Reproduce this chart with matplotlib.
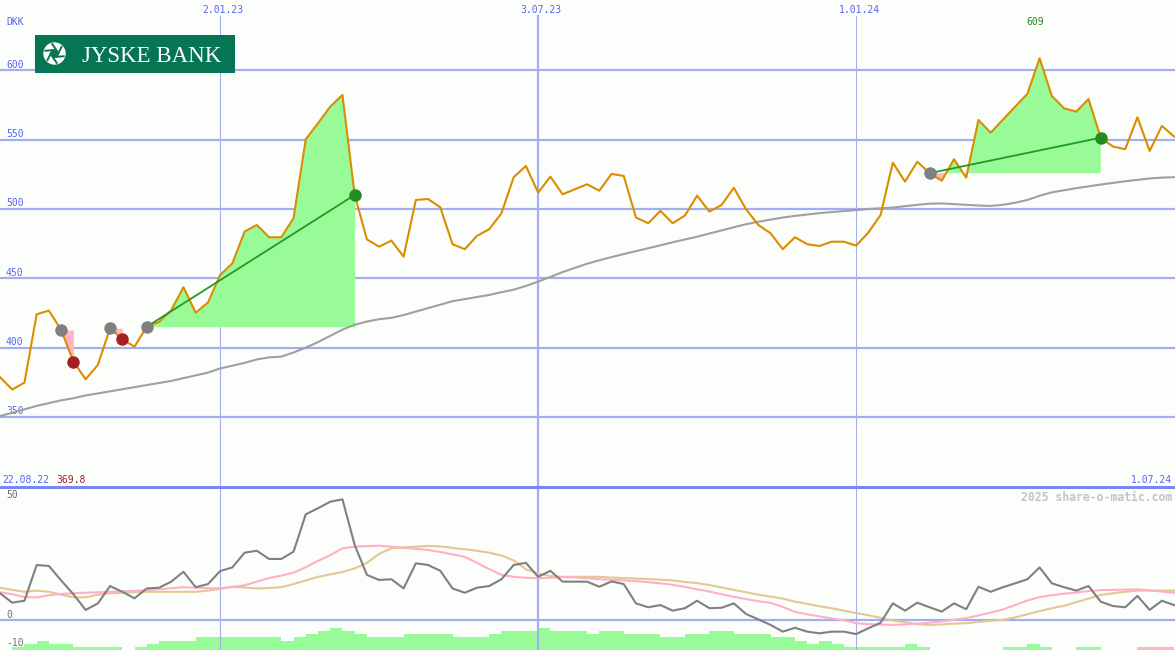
import numpy as np
import pandas as pd
import matplotlib
matplotlib.use("Agg")
import matplotlib.pyplot as plt
from matplotlib.lines import Line2D
from matplotlib.patches import Circle, RegularPolygon
from matplotlib.transforms import offset_copy

# weekly closing price, DKK
price = [378.7, 369.8, 374.8, 424.1, 426.7, 412.7, 390.0, 377.2, 387.5, 414.0,
         406.1, 400.7, 415.1, 418.5, 427.0, 443.6, 425.2, 432.5, 452.4, 460.8,
         483.7, 488.5, 479.6, 479.6, 493.3, 550.3, 561.8, 573.8, 582.2, 510.1,
         478.0, 472.8, 477.2, 465.6, 506.5, 507.2, 501.2, 474.6, 471.0, 480.6,
         485.4, 496.9, 522.9, 531.0, 511.8, 523.3, 510.6, 514.2, 517.8, 513.2,
         525.3, 523.8, 493.8, 489.7, 498.6, 489.7, 495.3, 509.6, 498.1, 502.9,
         515.3, 499.8, 488.5, 482.5, 471.0, 479.6, 474.6, 473.3, 476.4, 476.4,
         473.6, 483.0, 495.7, 533.4, 519.7, 534.1, 525.8, 520.4, 535.9, 522.6,
         564.2, 555.0, 564.4, 573.8, 583.0, 608.7, 581.5, 572.6, 570.2, 579.3,
         551.4, 545.0, 543.1, 566.1, 541.8, 559.9, 552.2]

# long moving average (grey)
ma = [350.7, 353.0, 355.5, 358.0, 360.0, 362.0, 363.5, 365.5, 367.0, 368.5,
      370.0, 371.5, 373.0, 374.5, 376.0, 378.0, 380.0, 382.0, 385.0, 387.0,
      389.0, 391.5, 393.0, 393.5, 396.5, 400.0, 404.0, 408.5, 413.0, 416.5,
      418.8, 420.5, 421.5, 423.5, 426.0, 428.5, 431.0, 433.5, 435.0, 436.5,
      438.0, 440.0, 441.8, 444.5, 447.6, 451.0, 454.5, 457.5, 460.5, 463.0,
      465.3, 467.5, 469.6, 471.7, 473.8, 476.0, 478.0, 480.0, 482.3, 484.5,
      486.8, 489.0, 490.8, 492.3, 493.8, 495.0, 496.0, 497.0, 497.8, 498.5,
      499.2, 500.0, 500.5, 501.0, 502.0, 503.0, 503.8, 504.0, 503.5, 503.0,
      502.5, 502.2, 503.0, 504.5, 506.5, 509.5, 512.0, 513.5, 515.0, 516.3,
      517.6, 518.8, 520.0, 521.0, 522.0, 522.6, 522.9]

# lower panel: oscillator and its two averages
osc = [11.2, 7.3, 8.1, 22.9, 22.5, 16.5, 10.8, 4.3, 7.0, 14.2,
       11.8, 9.1, 13.2, 13.5, 16.0, 20.1, 13.7, 15.0, 20.4, 21.9,
       28.0, 28.8, 25.4, 25.4, 28.4, 43.9, 46.4, 49.1, 50.1, 31.2,
       18.8, 16.7, 17.0, 13.2, 23.6, 22.9, 20.5, 13.2, 11.4, 13.5,
       14.2, 17.0, 22.9, 23.8, 18.0, 20.5, 16.0, 16.0, 16.0, 13.9,
       16.1, 15.0, 7.0, 5.4, 6.3, 4.0, 5.0, 8.1, 5.0, 5.2,
       7.0, 2.6, 0.4, -1.9, -4.7, -3.1, -4.7, -5.4, -4.7, -4.7,
       -5.7, -3.3, -1.0, 7.0, 4.0, 7.3, 5.4, 3.6, 7.0, 4.6,
       13.9, 11.8, 13.7, 15.3, 17.0, 21.9, 15.3, 13.7, 12.3, 14.2,
       7.7, 5.9, 5.4, 10.1, 4.3, 8.1, 6.3]

osc_fast = [11.6, 10.8, 9.6, 9.5, 10.4, 10.9, 11.2, 11.4, 11.6, 11.8,
            12.0, 12.2, 12.5, 12.9, 13.3, 13.7, 13.5, 13.3, 13.2, 13.8,
            14.5, 16.0, 17.5, 18.5, 19.7, 22.0, 24.6, 27.0, 29.8, 30.5,
            30.7, 30.9, 30.5, 30.0, 29.6, 29.1, 28.3, 27.3, 26.3, 23.8,
            21.2, 18.8, 18.0, 17.6, 17.4, 17.6, 17.9, 17.8, 17.4, 17.0,
            16.8, 16.5, 16.2, 15.8, 15.3, 14.7, 13.8, 12.8, 11.9, 10.8,
            9.7, 8.8, 7.9, 7.2, 5.5, 3.5, 2.5, 1.6, 0.8, 0.0,
            -1.2, -1.6, -1.8, -1.9, -1.7, -1.4, -1.0, -0.5, 0.2, 0.9,
            2.0, 3.2, 4.5, 6.3, 8.2, 9.6, 10.4, 11.0, 11.5, 12.1,
            12.5, 12.6, 12.7, 12.8, 12.4, 11.9, 11.4]

osc_slow = [13.5, 12.6, 11.8, 12.3, 11.8, 10.6, 9.5, 9.5, 10.6, 11.2,
            11.4, 11.6, 11.8, 11.8, 11.8, 11.8, 11.8, 12.3, 13.0, 13.9,
            13.6, 13.2, 13.4, 13.7, 15.0, 16.5, 18.0, 19.0, 20.0, 21.5,
            23.8, 27.5, 29.8, 30.2, 30.5, 30.8, 30.6, 30.0, 29.4, 28.8,
            28.0, 26.8, 24.8, 21.1, 19.4, 18.3, 18.0, 18.0, 18.0, 18.0,
            17.7, 17.5, 17.3, 17.1, 16.8, 16.5, 15.9, 15.4, 14.6, 13.6,
            12.6, 11.6, 10.6, 9.8, 9.0, 7.7, 6.8, 5.8, 5.0, 4.0,
            3.0, 2.1, 1.0, -0.1, -0.8, -1.6, -1.9, -1.7, -1.4, -1.2,
            -0.7, -0.2, 0.2, 1.2, 2.5, 3.8, 5.0, 6.0, 7.5, 9.0,
            10.5, 11.2, 11.8, 12.3, 12.3, 12.3, 12.3]

# signal strength histogram, one bar per week (negative = pink)
hist = [0, 1, 2, 3, 2, 2, 1, 1, 1, 1,
        0, 1, 2, 3, 3, 3, 4, 4, 4, 4,
        4, 4, 4, 3, 4, 5, 6, 7, 6, 5,
        4, 4, 4, 5, 5, 5, 5, 4, 4, 4,
        5, 6, 6, 6, 7, 6, 6, 6, 5, 6,
        6, 5, 5, 5, 4, 4, 5, 5, 6, 6,
        5, 5, 5, 4, 4, 3, 2, 3, 2, 1,
        1, 1, 1, 1, 2, 1, 0, 0, 0, 0,
        0, 0, 1, 1, 2, 1, 0, 0, 1, 1,
        0, 0, 0, -1, -1, -1]

# trades: week index of buy and sell
buy_idx = [5, 9, 12, 76]
sell_idx = [6, 10, 29, 90]

date_lines = ["2023-01-02", "2023-07-03", "2024-01-01"]
date_labels = ["2.01.23", "3.07.23", "1.01.24"]
date_widths = [0.8, 1.6, 0.8]
price_ticks = [350, 400, 450, 500, 550, 600]
osc_ticks = [50, 0, -10]
osc_tick_dy = [1.5, 1.8, -2.0]

dates = pd.date_range("2022-08-29", periods=len(price), freq="7D")
price = np.array(price)
hist = np.array(hist)

bg = "#FCFEFB"
grid_c = "#A3AEF0"
lab_c = "#5565F5"
mono = "DejaVu Sans Mono"

fig = plt.figure(figsize=(11.75, 6.5), dpi=100, facecolor=bg)
ax = fig.add_axes([0, 163 / 650, 1, 487 / 650])
ax2 = fig.add_axes([0, 0, 1, 163 / 650])
for a in (ax, ax2):
    a.set_facecolor("none")
    a.set_xlim(dates[0], pd.Timestamp("2024-07-01 12:00"))
    a.set_xticks([])
    a.set_yticks([])
    for s in a.spines.values():
        s.set_visible(False)

ax.set_ylim(299.5, 650.7)
ax2.set_ylim(-12.3, 55.2)

# grid
for v in price_ticks:
    ax.axhline(v, color=grid_c, lw=1.6, zorder=1)
    ax.text(0, v, str(v), transform=offset_copy(ax.get_yaxis_transform(), fig=fig, x=6, y=2.5, units="dots"),
            fontsize=7, family=mono, color=lab_c, va="baseline")
for d, lab, w in zip(date_lines, date_labels, date_widths):
    d = pd.Timestamp(d)
    ax.axvline(d, ymax=(487 - 16) / 487, color=grid_c, lw=w, zorder=1)
    ax2.axvline(d, color=grid_c, lw=w, zorder=1)
    ax.text(d, 1 - 12.7 / 487, lab, transform=offset_copy(ax.get_xaxis_transform(), fig=fig, x=3, y=0, units="dots"),
            fontsize=7, family=mono, color=lab_c, ha="center", va="baseline")

ax.text(6 / 1175, 1 - 25 / 487, "DKK", transform=ax.transAxes, fontsize=7, family=mono,
        color=lab_c, va="baseline")

# trades: fills between price and buy level
for b, s in zip(buy_idx, sell_idx):
    xs = dates[b:s + 1]
    ys = price[b:s + 1]
    lvl = price[b]
    ax.fill_between(xs, ys, lvl, where=ys >= lvl, interpolate=True, color="#98FB98", lw=0, zorder=2)
    ax.fill_between(xs, ys, lvl, where=ys <= lvl, interpolate=True, color="#FFB6C1", lw=0, zorder=2)

ax.plot(dates, ma, color="#A0A0A0", lw=1.5, zorder=3)
ax.plot(dates, price, color="#DC8C00", lw=1.5, zorder=4)

for b, s in zip(buy_idx, sell_idx):
    win = price[s] > price[b]
    if win:
        ax.plot([dates[b], dates[s]], [price[b], price[s]], color="#229A22", lw=1.3, zorder=5)
    ax.plot(dates[b], price[b], "o", ms=9, color="#808080", mec="none", zorder=6)
    ax.plot(dates[s], price[s], "o", ms=9, color="#228B22" if win else "#A52020", mec="none", zorder=6)

# max / min labels
imax = int(np.argmax(price))
ax.annotate(f"{price[imax]:.0f}", (dates[imax], price[imax]), xytext=(-3, 24), textcoords="offset points",
            fontsize=7, family=mono, color="#228B22", ha="center", va="baseline")
ax.text(2 / 1175, 4 / 487, "22.08.22", transform=ax.transAxes,
        fontsize=7, family=mono, color=lab_c, va="baseline")
ax.text(56 / 1175, 4 / 487, f"{price.min():.1f}", transform=ax.transAxes,
        fontsize=7, family=mono, color="#A52020", va="baseline")
ax.text(1172 / 1175, 4 / 487, "1.07.24", transform=ax.transAxes,
        fontsize=7, family=mono, color=lab_c, va="baseline", ha="right")

# lower panel
ax2.axhline(0, color=grid_c, lw=1.6, zorder=1)
bar_unit = 1.3
bottom = ax2.get_ylim()[0]
ax2.bar(dates[:-1], np.abs(hist) * bar_unit, width=7, align="edge", bottom=bottom,
        color=np.where(hist < 0, "#FFB6C1", "#98FB98"), lw=0, zorder=0.5)
ax2.plot(dates, osc_slow, color="#E2C894", lw=1.5, zorder=3)
ax2.plot(dates, osc_fast, color="#FFB0C4", lw=1.5, zorder=3)
ax2.plot(dates, osc, color="#808080", lw=1.5, zorder=4)
for v, dy in zip(osc_ticks, osc_tick_dy):
    ax2.text(0, v, str(v), transform=offset_copy(ax2.get_yaxis_transform(), fig=fig, x=6, y=dy, units="dots"),
             fontsize=7, family=mono, color="#707070", va="baseline")
ax2.text(1172 / 1175, (650 - 500.7) / 163, "2025 share-o-matic.com", transform=ax2.transAxes,
         fontsize=8.3, family=mono, weight="bold", color="#C4C4C4", ha="right", va="baseline")

fig.add_artist(Line2D([0, 1], [1 - 486.5 / 650] * 2, transform=fig.transFigure, color="#7888F0", lw=2.2))

# logo
lg = fig.add_axes([35 / 1175, 1 - 73 / 650, 200 / 1175, 38 / 650])
lg.set_xlim(0, 200)
lg.set_ylim(38, 0)
lg.set_facecolor("#067553")
lg.set_xticks([])
lg.set_yticks([])
for s in lg.spines.values():
    s.set_visible(False)
cx, cy, r = 19.5, 18.5, 10.5
lg.add_patch(Circle((cx, cy), r, color="white"))
for k in range(6):
    t = np.radians(k * 60 + 15)
    t2 = t + np.radians(110)
    lg.plot([cx + r * np.cos(t), cx + 0.42 * r * np.cos(t2)], [cy + r * np.sin(t), cy + 0.42 * r * np.sin(t2)],
            color="#067553", lw=1.4, solid_capstyle="butt")
lg.add_patch(RegularPolygon((cx, cy), 6, radius=0.3 * r, color="#067553"))
lg.text(117, 27, "JYSKE BANK", fontsize=16.5, family=["Liberation Serif", "DejaVu Serif"],
        color="white", ha="center", va="baseline")

fig.savefig("out.png", dpi=100, facecolor=bg)
